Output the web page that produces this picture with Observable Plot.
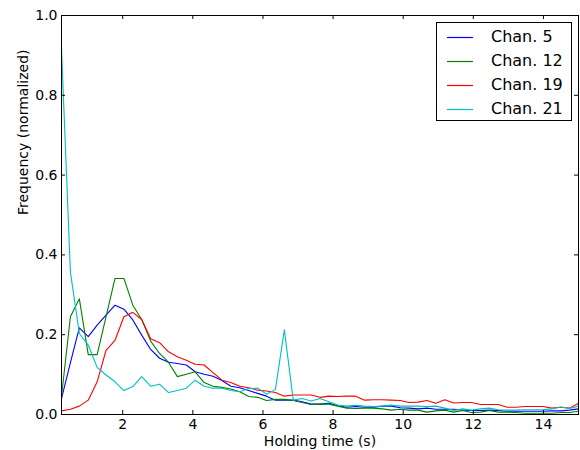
<!DOCTYPE html>
<html><head><meta charset="utf-8">
<script src="https://cdn.jsdelivr.net/npm/d3@7"></script>
<script src="https://cdn.jsdelivr.net/npm/@observablehq/plot@0.6"></script>
<style>
body{margin:0;background:#fff;}
#wrap{position:relative;width:580px;height:450px;font-family:"DejaVu Sans",sans-serif;}
#legend{position:absolute;left:436px;top:22px;width:136px;height:99px;border:1px solid #000;background:#fff;box-sizing:border-box;padding-top:2px;}
.row{position:relative;height:24px;line-height:24px;font-size:16px;color:#000;}
.sw{position:absolute;left:10px;top:11px;width:26px;height:3px;display:block;}
.lab{position:absolute;left:54px;top:0;white-space:nowrap;}
</style>
</head><body>
<div id="wrap"><div id="chart"></div><div id="legend"></div></div>
<script>
// holding time bins (s)
const holdingTime = [0.254,0.508,0.763,1.017,1.271,1.525,1.780,2.034,2.288,2.542,2.797,3.051,3.305,3.559,3.814,4.068,4.322,4.576,4.831,5.085,5.339,5.593,5.847,6.102,6.356,6.610,6.864,7.119,7.373,7.627,7.881,8.136,8.390,8.644,8.898,9.153,9.407,9.661,9.915,10.169,10.424,10.678,10.932,11.186,11.441,11.695,11.949,12.203,12.458,12.712,12.966,13.220,13.475,13.729,13.983,14.237,14.492,14.746,15.000];

const chan5 = [0.04,0.13,0.217,0.195,0.224,0.249,0.274,0.264,0.237,0.199,0.163,0.141,0.131,0.128,0.124,0.107,0.101,0.096,0.085,0.071,0.067,0.06,0.053,0.046,0.036,0.036,0.036,0.032,0.026,0.026,0.028,0.022,0.018,0.02,0.018,0.018,0.021,0.021,0.017,0.016,0.014,0.016,0.013,0.013,0.013,0.011,0.01,0.01,0.011,0.01,0.008,0.008,0.008,0.008,0.008,0.009,0.009,0.011,0.014];

const chan12 = [0.045,0.245,0.29,0.15,0.15,0.245,0.341,0.341,0.274,0.238,0.184,0.153,0.131,0.095,0.101,0.107,0.08,0.071,0.068,0.064,0.057,0.045,0.043,0.035,0.038,0.038,0.035,0.03,0.025,0.026,0.026,0.021,0.016,0.015,0.016,0.016,0.014,0.011,0.013,0.011,0.011,0.006,0.009,0.011,0.006,0.01,0.005,0.006,0.01,0.006,0.006,0.005,0.003,0.003,0.003,0.003,0.005,0.005,0.008];

const chan19 = [0.009,0.013,0.021,0.036,0.082,0.161,0.186,0.245,0.256,0.238,0.19,0.18,0.157,0.145,0.136,0.126,0.124,0.105,0.086,0.08,0.071,0.067,0.061,0.059,0.055,0.046,0.049,0.049,0.049,0.043,0.046,0.045,0.046,0.046,0.036,0.037,0.037,0.036,0.035,0.03,0.031,0.035,0.028,0.037,0.029,0.03,0.03,0.025,0.025,0.025,0.018,0.018,0.02,0.02,0.02,0.016,0.018,0.016,0.028];

const chan21 = [0.917,0.357,0.203,0.174,0.118,0.099,0.082,0.06,0.07,0.095,0.071,0.076,0.055,0.06,0.066,0.086,0.071,0.066,0.066,0.06,0.057,0.065,0.066,0.051,0.063,0.212,0.036,0.04,0.034,0.04,0.032,0.024,0.021,0.023,0.021,0.02,0.021,0.024,0.021,0.021,0.021,0.02,0.021,0.016,0.01,0.014,0.011,0.014,0.016,0.012,0.011,0.011,0.012,0.012,0.012,0.014,0.019,0.015,0.021];

const seriesNames = ["Chan. 5","Chan. 12","Chan. 19","Chan. 21"];
const seriesColors = ["#0000ff","#008000","#ff0000","#00bfbf"];
const xTicks = [2,4,6,8,10,12,14];
const yTicks = [0,0.2,0.4,0.6,0.8,1.0];
const xLabel = "Holding time (s)";
const yLabel = "Frequency (normalized)";

const seriesValues = [chan5, chan12, chan19, chan21];
const rows = [];
seriesValues.forEach((vals, i) => vals.forEach((v, j) => rows.push({series: seriesNames[i], x: holdingTime[j], value: v})));

const W = 580, H = 450, mL = 61, mR = 2, mT = 15, mB = 36;
const plotW = W - mL - mR, plotH = H - mT - mB;

const chart = Plot.plot({
  width: W, height: H,
  marginLeft: mL, marginRight: mR, marginTop: mT, marginBottom: mB,
  style: {fontFamily: "DejaVu Sans", fontSize: "14px", color: "#000", background: "#fff"},
  x: {domain: [holdingTime[0], 15]},
  y: {domain: [0, 1]},
  color: {domain: seriesNames, range: seriesColors},
  marks: [
    Plot.line(rows, {x: "x", y: "value", z: "series", stroke: "series", strokeWidth: 1.1}),
    Plot.frame({stroke: "#000", strokeWidth: 1}),
    Plot.tickX(xTicks, {x: d => d, insetTop: plotH - 4, stroke: "#000"}),
    Plot.tickX(xTicks, {x: d => d, insetBottom: plotH - 4, stroke: "#000"}),
    Plot.tickY(yTicks, {y: d => d, insetRight: plotW - 4, stroke: "#000"}),
    Plot.tickY(yTicks, {y: d => d, insetLeft: plotW - 4, stroke: "#000"}),
    Plot.axisX({ticks: xTicks, tickSize: 0, tickPadding: 5, label: null, fontSize: 14}),
    Plot.axisY({ticks: yTicks, tickSize: 0, tickPadding: 4, tickFormat: d3.format(".1f"), label: null, fontSize: 14}),
    Plot.text([xLabel], {text: d => d, frameAnchor: "bottom", dy: 27, lineAnchor: "middle", fontSize: 14}),
    Plot.text([yLabel], {text: d => d, frameAnchor: "left", rotate: -90, dx: -38, lineAnchor: "middle", fontSize: 14})
  ]
});
document.getElementById("chart").appendChild(chart);

const legend = document.getElementById("legend");
const svgNS = "http://www.w3.org/2000/svg";
seriesNames.forEach((name, i) => {
  const row = document.createElement("div");
  row.className = "row";
  const sw = document.createElementNS(svgNS, "svg");
  sw.setAttribute("class", "sw");
  sw.setAttribute("width", "26");
  sw.setAttribute("height", "3");
  const ln = document.createElementNS(svgNS, "line");
  ln.setAttribute("x1", "0"); ln.setAttribute("x2", "26");
  ln.setAttribute("y1", "1.5"); ln.setAttribute("y2", "1.5");
  ln.setAttribute("stroke", seriesColors[i]);
  ln.setAttribute("stroke-width", "1.2");
  sw.appendChild(ln);
  const lab = document.createElement("span");
  lab.className = "lab";
  lab.textContent = name;
  row.appendChild(sw); row.appendChild(lab);
  legend.appendChild(row);
});
</script>
</body></html>
